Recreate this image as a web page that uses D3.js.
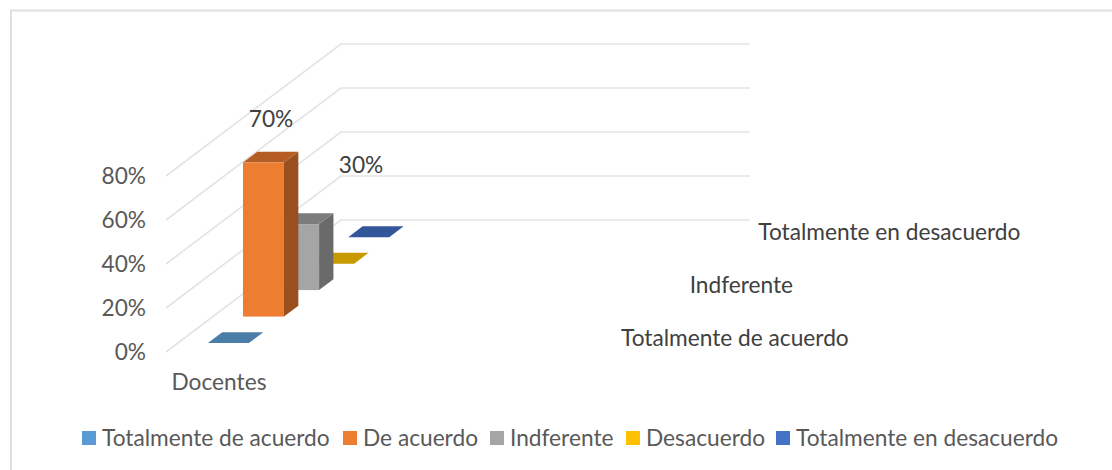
<!DOCTYPE html>
<html><head><meta charset="utf-8">
<script src="https://cdn.jsdelivr.net/npm/d3@7"></script>
<style>html,body{margin:0;padding:0;background:#fff}svg{display:block}text{font-family:Lato,sans-serif}</style>
</head><body><div id="c"></div>
<script>
const categories = ["Docentes"];
const seriesNames = ["Totalmente de acuerdo","De acuerdo","Indferente","Desacuerdo","Totalmente en desacuerdo"];
const seriesValues = [0,70,30,0,0];
const valueLabels = [null,"70%","30%",null,null];
const axisTicks = [0,20,40,60,80];
const depthLabels = ["Totalmente de acuerdo","Indferente","Totalmente en desacuerdo"];
const frontColors = ["#4a7ea8","#ed7d31","#a5a5a5","#c99a00","#33569b"];
const topColors = ["#4a7ea8","#b55d23","#7c7c7c","#c99a00","#33569b"];
const sideColors = ["#3e6a8e","#99501e","#6a6a6a","#a88000","#2a4680"];
const legendColors = ["#5b9bd5","#ed7d31","#a5a5a5","#ffc000","#4472c4"];

const W=1112,H=470;
const svg=d3.select("#c").append("svg").attr("width",W).attr("height",H);
svg.append("path").attr("d","M11,470V10.5H1112").attr("fill","none").attr("stroke","#e0e0e0").attr("stroke-width",2);

const y=d3.scaleLinear().domain([0,80]).range([352,176]);
const dx=t=>175*t, dy=t=>-132*t;
const depthPos=d3.scalePoint().domain(seriesNames).range([0.068,0.87]);
const barW=41, barD=0.082;
const line=d3.line();
const fs=22.7;

const grid=svg.append("g");
axisTicks.forEach(v=>{
  const p0=[166,y(v)],p1=[166+dx(1),y(v)+dy(1)],p2=[750,y(v)+dy(1)];
  grid.append("path").attr("d",line([p0,p1,p2])).attr("fill","none").attr("stroke","#e3e3e3").attr("stroke-width",1.6);
  svg.append("text").attr("x",146).attr("y",y(v)+7.5).attr("text-anchor","end").attr("font-size",fs).attr("fill","#595959").text(v+"%");
});

d3.range(seriesNames.length).reverse().forEach(i=>{
  const t=depthPos(seriesNames[i]);
  const bx=166+dx(t)+30, by0=y(0)+dy(t), h=y(0)-y(seriesValues[i]);
  const ox=dx(barD), oy=dy(barD);
  const g=svg.append("g");
  g.append("path").attr("fill",sideColors[i]).attr("d",line([[bx+barW,by0],[bx+barW+ox,by0+oy],[bx+barW+ox,by0+oy-h],[bx+barW,by0-h]])+"Z");
  g.append("path").attr("fill",topColors[i]).attr("d",line([[bx,by0-h],[bx+ox,by0+oy-h],[bx+barW+ox,by0+oy-h],[bx+barW,by0-h]])+"Z");
  if(h>0) g.append("rect").attr("x",bx).attr("y",by0-h).attr("width",barW).attr("height",h).attr("fill",frontColors[i]);
});

[[1,[271,127]],[2,[361,173]]].forEach(([i,p])=>{
  svg.append("text").attr("x",p[0]).attr("y",p[1]).attr("text-anchor","middle").attr("font-size",fs).attr("fill","#404040").text(valueLabels[i]);
});

svg.append("text").attr("x",219).attr("y",390).attr("text-anchor","middle").attr("font-size",fs).attr("fill","#595959").text(categories[0]);

depthLabels.forEach(n=>{
  const t=depthPos(n);
  svg.append("text").attr("x",609.4+0.978*dx(t)).attr("y",y(0)+dy(t)+3).attr("font-size",fs).attr("fill","#404040").text(n);
});

const legendX=[83,344,491,627,777];
seriesNames.forEach((n,i)=>{
  svg.append("rect").attr("x",legendX[i]-1).attr("y",431).attr("width",14).attr("height",14).attr("fill",legendColors[i]);
  svg.append("text").attr("x",legendX[i]+19).attr("y",445.5).attr("font-size",fs).attr("fill","#595959").text(n);
});
</script></body></html>
